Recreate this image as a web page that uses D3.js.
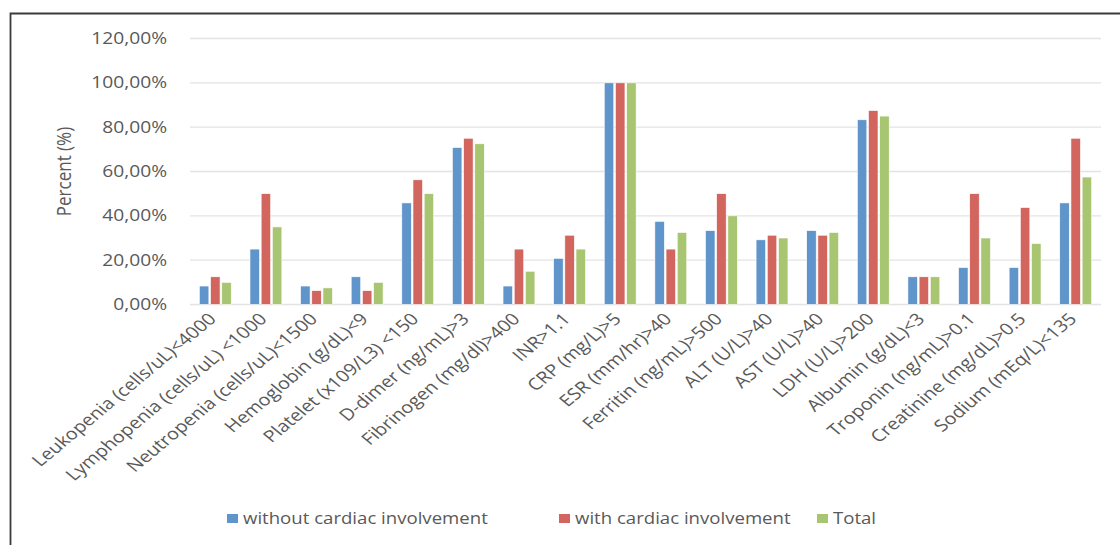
<!DOCTYPE html>
<html>
<head>
<meta charset="utf-8">
<script src="https://cdn.jsdelivr.net/npm/d3@7"></script>
<style>
  body { margin: 0; background: #fff; }
  svg { display: block; font-family: "Open Sans", "Liberation Sans", sans-serif; }
</style>
</head>
<body>
<div id="chart"></div>
<script>
// categories and values (percent)
const categories = [
  'Leukopenia (cells/uL)<4000', 'Lymphopenia (cells/uL) <1000', 'Neutropenia (cells/uL)<1500',
  'Hemoglobin (g/dL)<9', 'Platelet (x109/L3) <150', 'D-dimer (ng/mL)>3', 'Fibrinogen (mg/dl)>400',
  'INR>1.1', 'CRP (mg/L)>5', 'ESR (mm/hr)>40', 'Ferritin (ng/mL)>500', 'ALT (U/L)>40', 'AST (U/L)>40',
  'LDH (U/L)>200', 'Albumin (g/dL)<3', 'Troponin (ng/mL)>0.1', 'Creatinine (mg/dL)>0.5', 'Sodium (mEq/L)<135'
];
const withoutCardiac = [8.33, 25, 8.33, 12.5, 45.83, 70.83, 8.33, 20.83, 100, 37.5, 33.33, 29.17, 33.33, 83.33, 12.5, 16.67, 16.67, 45.83];
const withCardiac    = [12.5, 50, 6.25, 6.25, 56.25, 75, 25, 31.25, 100, 25, 50, 31.25, 31.25, 87.5, 12.5, 50, 43.75, 75];
const totalVals      = [10, 35, 7.5, 10, 50, 72.5, 15, 25, 100, 32.5, 40, 30, 32.5, 85, 12.5, 30, 27.5, 57.5];
const seriesNames = ['without cardiac involvement', 'with cardiac involvement', 'Total'];
const yTicks = [0, 20, 40, 60, 80, 100, 120];

const W = 1120, H = 545;
const colors = ['#5F95CA', '#D2665F', '#A8C671'];
const seriesVals = [withoutCardiac, withCardiac, totalVals];
const stretch = 'scale(1.2,1)'; // the source picture is a bit wider than tall

const svg = d3.select('#chart').append('svg').attr('width', W).attr('height', H);

// outer frame (left + top edges visible)
svg.append('path')
    .attr('d', 'M10.5,545 L10.5,13.5 L1120,13.5')
    .attr('fill', 'none').attr('stroke', '#3a3a3a').attr('stroke-width', 1.8);

const plot = {left: 190, right: 1101, top: 38.5, bottom: 304.5};

const x = d3.scaleBand().domain(categories).range([plot.left, plot.right]).paddingInner(0.37).paddingOuter(0.185);
const xSub = d3.scaleBand().domain([0, 1, 2]).range([0, x.bandwidth()]).paddingInner(0.15);
const y = d3.scaleLinear().domain([0, 120]).range([plot.bottom, plot.top]);

// gridlines
svg.append('g').selectAll('line').data(yTicks).enter().append('line')
    .attr('x1', plot.left).attr('x2', plot.right)
    .attr('y1', d => y(d)).attr('y2', d => y(d))
    .attr('stroke', '#e3e3e3').attr('stroke-width', 1.3);

// y axis labels
const fmt = d => d3.format('.2f')(d).replace('.', ',') + '%';
svg.append('g').selectAll('text').data(yTicks).enter().append('text')
    .attr('transform', d => 'translate(167,' + y(d) + ') ' + stretch)
    .attr('dy', '0.35em')
    .attr('text-anchor', 'end').attr('fill', '#595959').style('font-size', '16px')
    .text(fmt);

svg.append('text')
    .attr('transform', 'translate(71,' + y(60) + ') ' + stretch + ' rotate(-90)')
    .attr('text-anchor', 'middle').attr('fill', '#595959').style('font-size', '17px')
    .text('Percent (%)');

// bars
seriesVals.forEach((vals, s) => {
  svg.append('g').selectAll('rect').data(vals).enter().append('rect')
      .attr('x', (d, i) => x(categories[i]) + xSub(s))
      .attr('y', d => y(d))
      .attr('width', xSub.bandwidth())
      .attr('height', d => plot.bottom - y(d))
      .attr('fill', colors[s])
      .attr('stroke', '#fff').attr('stroke-width', 0.6);
});

// x labels rotated
svg.append('g').selectAll('text').data(categories).enter().append('text')
    .attr('transform', d => 'translate(' + (x(d) + x.bandwidth() / 2 + 2) + ',320) ' + stretch + ' rotate(-45)')
    .attr('text-anchor', 'end').attr('fill', '#595959').style('font-size', '16.5px')
    .text(d => d);

// legend
const legendX = [227, 559, 817];
const lg = svg.append('g').selectAll('g').data(seriesNames).enter().append('g')
    .attr('transform', (d, i) => 'translate(' + legendX[i] + ',519)');
lg.append('rect').attr('x', 0).attr('y', -5).attr('width', 11).attr('height', 9)
    .attr('fill', (d, i) => colors[i]);
lg.append('text').attr('transform', 'translate(16,0) ' + stretch).attr('dy', '0.35em')
    .attr('fill', '#595959').style('font-size', '15.5px').text(d => d);
</script>
</body>
</html>
